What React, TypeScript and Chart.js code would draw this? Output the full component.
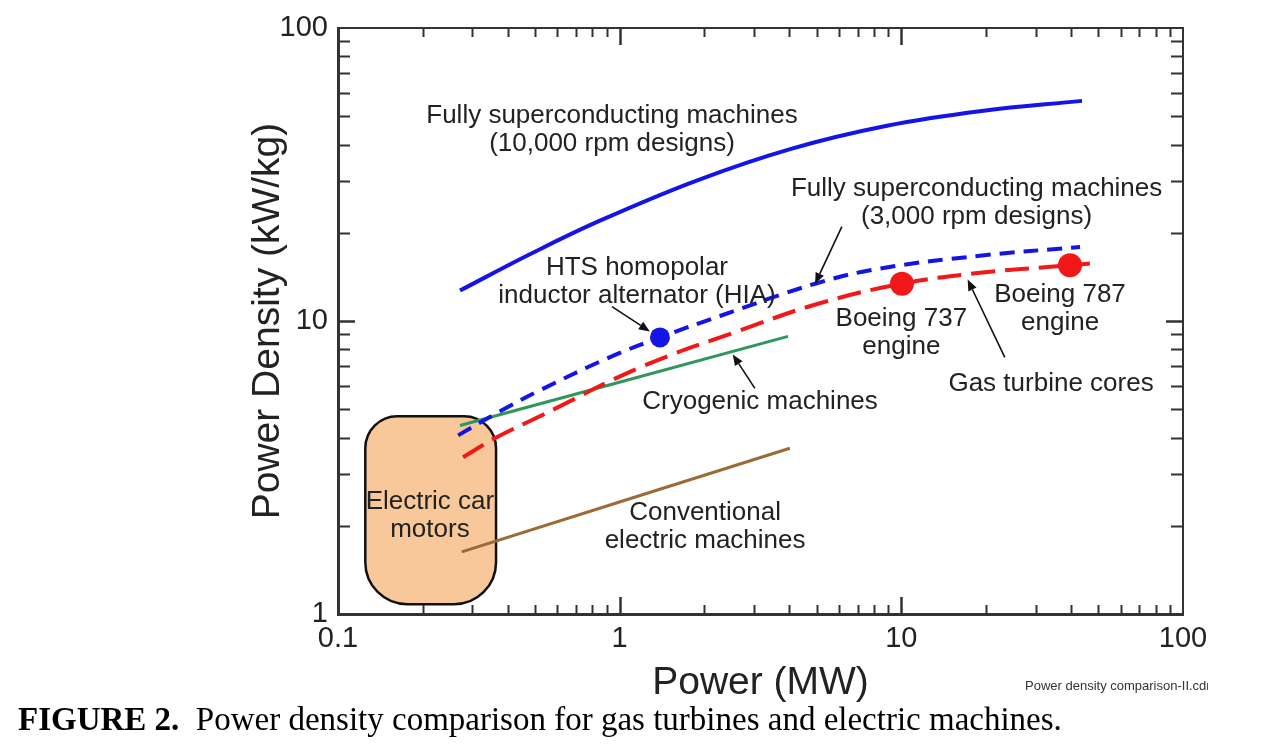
import React, { useEffect, useRef } from "react";
import { Chart, registerables } from "chart.js";

Chart.register(...registerables);

// ---- Data (x: Power in MW, y: Power density in kW/kg) ----
const sc10kPower = [0.271, 0.48, 0.851, 1.866, 4.06, 8.89, 19.3, 43.8];
const sc10kDensity = [12.7, 16.9, 22.0, 30.1, 38.7, 46.4, 52.1, 56.4];

const sc3kPower = [0.267, 0.376, 0.521, 0.902, 1.39, 2.27, 4.94, 8.39, 19.0, 43.1];
const sc3kDensity = [4.07, 4.92, 5.8, 7.45, 8.79, 10.4, 13.4, 15.1, 16.7, 17.9];

const gasPower = [0.278, 0.366, 0.521, 1.18, 2.67, 5.14, 10.05, 19.0, 39.7, 46.7];
const gasDensity = [3.43, 4.01, 4.73, 6.94, 9.28, 11.5, 13.4, 14.6, 15.5, 15.7];

const cryoPower = [0.271, 3.96];
const cryoDensity = [4.4, 8.86];

const convPower = [0.275, 4.02];
const convDensity = [1.63, 3.68];

const hiaPower = [1.39];
const hiaDensity = [8.79];

const boeingPower = [10.05, 39.7];
const boeingDensity = [13.4, 15.5];

// Electric car motors region (x range, y range)
const carBoxPower = [0.125, 0.364];
const carBoxDensity = [1.08, 4.73];

const xTickValues = [0.1, 1, 10, 100];
const xTickLabels = ["0.1", "1", "10", "100"];
const yTickValues = [1, 10, 100];
const yTickLabels = ["1", "10", "100"];

// Annotation texts (centre in data coords)
const annotations = [
  { lines: ["Fully superconducting machines", "(10,000 rpm designs)"], x: 0.939, y: 44.9 },
  { lines: ["Fully superconducting machines", "(3,000 rpm designs)"], x: 18.5, y: 25.3 },
  { lines: ["HTS homopolar", "inductor alternator (HIA)"], x: 1.152, y: 13.6 },
  { lines: ["Boeing 737", "engine"], x: 10.0, y: 9.1 },
  { lines: ["Boeing 787", "engine"], x: 36.6, y: 10.99 },
  { lines: ["Gas turbine cores"], x: 34.0, y: 6.12 },
  { lines: ["Cryogenic machines"], x: 3.15, y: 5.28 },
  { lines: ["Conventional", "electric machines"], x: 2.01, y: 1.98 },
  { lines: ["Electric car", "motors"], x: 0.212, y: 2.16 },
];

// Arrows: from (x1,y1) to tip (x2,y2), data coords
const arrows = [
  { x1: 6.15, y1: 21.0, x2: 4.94, y2: 13.4 },
  { x1: 0.939, y1: 11.2, x2: 1.28, y2: 9.21 },
  { x1: 3.02, y1: 5.89, x2: 2.52, y2: 7.69 },
  { x1: 23.3, y1: 7.51, x2: 17.2, y2: 13.85 },
];

const FONT = '"Liberation Sans", Arial, Helvetica, sans-serif';
const TEXT = "#222222";
const BLUE = "#1414e6";
const RED = "#f01818";
const GREEN = "#2f975a";
const BROWN = "#9c6a34";

const pts = (xs: number[], ys: number[]) => xs.map((x, i) => ({ x, y: ys[i] }));

const overlayPlugin = {
  id: "overlayPlugin",
  beforeDatasetsDraw(chart: any) {
    const { ctx, scales } = chart;
    const xs = scales.x;
    const ys = scales.y;
    const x0 = xs.getPixelForValue(carBoxPower[0]);
    const x1 = xs.getPixelForValue(carBoxPower[1]);
    const y0 = ys.getPixelForValue(carBoxDensity[1]);
    const y1 = ys.getPixelForValue(carBoxDensity[0]);
    ctx.save();
    ctx.beginPath();
    ctx.roundRect(x0, y0, x1 - x0, y1 - y0, [32, 32, 42, 42]);
    ctx.fillStyle = "#f8c89b";
    ctx.fill();
    ctx.lineWidth = 2.5;
    ctx.strokeStyle = "#111";
    ctx.stroke();
    ctx.restore();
  },
  afterDraw(chart: any) {
    const { ctx, scales, chartArea } = chart;
    const xs = scales.x;
    const ys = scales.y;
    const { left, right, top, bottom } = chartArea;
    ctx.save();
    // frame top & right
    ctx.strokeStyle = "#333";
    ctx.lineWidth = 2;
    ctx.beginPath();
    ctx.moveTo(left, top);
    ctx.lineTo(right, top);
    ctx.lineTo(right, bottom);
    ctx.stroke();

    // tick marks (inward)
    ctx.lineWidth = 2;
    const decadesX = [0.1, 1, 10];
    const decadesY = [1, 10];
    const majX = 17, minX = 9, majY = 17, minY = 12;
    for (const d of decadesX) {
      for (let k = 1; k <= 10; k++) {
        const v = d * k;
        const px = Math.round(xs.getPixelForValue(v)) + 0.5;
        const isMaj = k === 1 || k === 10;
        const L = isMaj ? majX : minX;
        if (px <= left + 1 || px >= right - 1) continue;
        ctx.beginPath();
        ctx.moveTo(px, bottom);
        ctx.lineTo(px, bottom - L);
        ctx.moveTo(px, top);
        ctx.lineTo(px, top + L);
        ctx.stroke();
      }
    }
    for (const d of decadesY) {
      for (let k = 1; k <= 10; k++) {
        const v = d * k;
        const py = Math.round(ys.getPixelForValue(v)) + 0.5;
        const isMaj = k === 1 || k === 10;
        const L = isMaj ? majY : minY;
        if (py <= top + 1 || py >= bottom - 1) continue;
        ctx.beginPath();
        ctx.moveTo(left, py);
        ctx.lineTo(left + L, py);
        ctx.moveTo(right, py);
        ctx.lineTo(right - L, py);
        ctx.stroke();
      }
    }

    // arrows
    ctx.strokeStyle = "#111";
    ctx.fillStyle = "#111";
    ctx.lineWidth = 1.6;
    for (const a of arrows) {
      const ax1 = xs.getPixelForValue(a.x1);
      const ay1 = ys.getPixelForValue(a.y1);
      const ax2 = xs.getPixelForValue(a.x2);
      const ay2 = ys.getPixelForValue(a.y2);
      const ang = Math.atan2(ay2 - ay1, ax2 - ax1);
      const hl = 11, hw = 4.5;
      const bx = ax2 - hl * Math.cos(ang);
      const by = ay2 - hl * Math.sin(ang);
      ctx.beginPath();
      ctx.moveTo(ax1, ay1);
      ctx.lineTo(bx, by);
      ctx.stroke();
      ctx.beginPath();
      ctx.moveTo(ax2, ay2);
      ctx.lineTo(bx + hw * Math.sin(ang), by - hw * Math.cos(ang));
      ctx.lineTo(bx - hw * Math.sin(ang), by + hw * Math.cos(ang));
      ctx.closePath();
      ctx.fill();
    }

    // annotation texts
    ctx.font = `26px ${FONT}`;
    ctx.fillStyle = TEXT;
    ctx.textAlign = "center";
    ctx.textBaseline = "middle";
    const gap = 28.5;
    for (const an of annotations) {
      const cx = xs.getPixelForValue(an.x);
      const cy = ys.getPixelForValue(an.y);
      const n = an.lines.length;
      an.lines.forEach((t, i) => {
        ctx.fillText(t, cx, cy + (i - (n - 1) / 2) * gap);
      });
    }
    ctx.restore();
  },
};

export default function App() {
  const ref = useRef<HTMLCanvasElement | null>(null);

  useEffect(() => {
    if (!ref.current) return;
    const lineDs = (label: string, xsArr: number[], ysArr: number[], color: string, width: number, dash: number[]) => ({
      label,
      data: pts(xsArr, ysArr),
      showLine: true,
      borderColor: color,
      backgroundColor: color,
      borderWidth: width,
      borderDash: dash,
      borderCapStyle: "butt",
      pointRadius: 0,
      tension: 0.4,
      order: 2,
    });
    const chart = new Chart(ref.current, {
      type: "scatter",
      data: {
        datasets: [
          {
            label: "HIA",
            data: pts(hiaPower, hiaDensity),
            pointRadius: 10,
            pointBackgroundColor: BLUE,
            pointBorderWidth: 0,
            showLine: false,
            order: 0,
          } as any,
          {
            label: "Boeing engines",
            data: pts(boeingPower, boeingDensity),
            pointRadius: 12,
            pointBackgroundColor: RED,
            pointBorderWidth: 0,
            showLine: false,
            order: 0,
          } as any,
          lineDs("Fully superconducting (10,000 rpm)", sc10kPower, sc10kDensity, BLUE, 4, []),
          lineDs("Fully superconducting (3,000 rpm)", sc3kPower, sc3kDensity, BLUE, 4, [15, 9]),
          lineDs("Gas turbine cores", gasPower, gasDensity, RED, 4, [24, 10]),
          lineDs("Cryogenic machines", cryoPower, cryoDensity, GREEN, 3, []),
          lineDs("Conventional electric machines", convPower, convDensity, BROWN, 3, []),
        ] as any,
      },
      options: {
        responsive: false,
        animation: false,
        devicePixelRatio: 1,
        layout: { padding: { left: 0, top: 28, right: 95, bottom: 0 } },
        plugins: {
          legend: { display: false },
          tooltip: { enabled: false },
        },
        scales: {
          x: {
            type: "logarithmic",
            position: "bottom",
            min: 0.1,
            max: 100,
            afterBuildTicks: (s: any) => {
              s.ticks = xTickValues.map((v) => ({ value: v, major: true }));
            },
            afterFit: (s: any) => {
              s.height = 131;
            },
            grid: { display: false, drawTicks: false },
            border: { display: true, color: "#333", width: 3 },
            ticks: {
              autoSkip: false,
              maxRotation: 0,
              padding: 8,
              color: TEXT,
              font: { family: FONT, size: 29 },
              callback: (_v: any, i: number) => xTickLabels[i],
            },
            title: {
              display: true,
              text: "Power (MW)",
              color: TEXT,
              font: { family: FONT, size: 39 },
              padding: { top: 0, bottom: 38 },
            },
          },
          y: {
            type: "logarithmic",
            position: "left",
            min: 1,
            max: 100,
            afterBuildTicks: (s: any) => {
              s.ticks = yTickValues.map((v) => ({ value: v, major: true }));
            },
            afterFit: (s: any) => {
              s.width = 338;
            },
            grid: { display: false, drawTicks: false },
            border: { display: true, color: "#333", width: 3 },
            ticks: {
              autoSkip: false,
              padding: 10,
              color: TEXT,
              font: { family: FONT, size: 29 },
              callback: (_v: any, i: number) => yTickLabels[i],
            },
            title: {
              display: true,
              text: "Power Density (kW/kg)",
              color: TEXT,
              font: { family: FONT, size: 39 },
              padding: { top: 245, bottom: 0 },
            },
          },
        },
      } as any,
      plugins: [overlayPlugin],
    });
    return () => chart.destroy();
  }, []);

  return (
    <div style={{ position: "fixed", left: 0, top: 0, width: 1278, height: 745, background: "#fff", overflow: "hidden" }}>
      <canvas ref={ref} width={1278} height={745} style={{ position: "absolute", left: 0, top: 0 }} />
      <div
        style={{
          position: "absolute",
          left: 1025,
          top: 678,
          font: `13px ${FONT}`,
          color: "#333",
          whiteSpace: "nowrap",
        }}
      >
        Power density comparison-II.cdr
      </div>
      <div style={{ position: "absolute", left: 1208, top: 0, width: 70, height: 700, background: "#fff" }} />
      <div
        style={{
          position: "absolute",
          left: 18,
          top: 703,
          fontFamily: '"Liberation Serif", "Times New Roman", serif',
          fontSize: 33,
          lineHeight: "33px",
          color: "#000",
          whiteSpace: "pre",
        }}
      >
        <b>FIGURE 2.</b>
        {"  Power density comparison for gas turbines and electric machines."}
      </div>
    </div>
  );
}
